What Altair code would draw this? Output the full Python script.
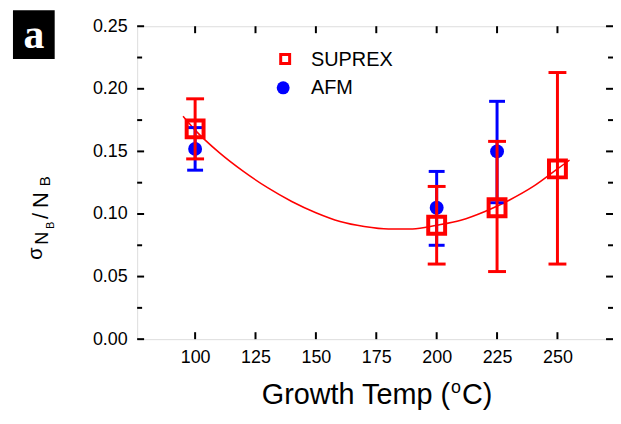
import altair as alt
import pandas as pd

# ---- data ----
temps_suprex = [100, 200, 225, 250]
suprex = [0.168, 0.091, 0.105, 0.136]
suprex_lo = [0.144, 0.060, 0.054, 0.060]
suprex_hi = [0.192, 0.122, 0.158, 0.213]

temps_afm = [100, 200, 225]
afm = [0.152, 0.105, 0.150]
afm_lo = [0.135, 0.075, 0.109]
afm_hi = [0.169, 0.134, 0.190]

fit_x = [95, 100, 110, 120, 130, 140, 150, 160, 170, 180, 190, 200, 210, 220, 230, 240, 250, 255]
fit_y = [0.178, 0.167, 0.149, 0.134, 0.121, 0.110, 0.101, 0.094, 0.090, 0.088, 0.088, 0.091,
         0.095, 0.102, 0.111, 0.122, 0.136, 0.143]

x_ticks = [100, 125, 150, 175, 200, 225, 250]
y_ticks = [0.00, 0.05, 0.10, 0.15, 0.20, 0.25]
y_minor = [0.025, 0.075, 0.125, 0.175, 0.225]

W, H = 479, 315
FONT = "Liberation Sans"
RED = "#ff0000"
BLUE = "#0000ff"

x_scale = alt.Scale(domain=[76, 273], nice=False, zero=False)
y_scale = alt.Scale(domain=[0, 0.25], nice=False, zero=False)
x_axis = alt.Axis(values=x_ticks, ticks=False, domain=False, grid=False, title=None,
                  labelFont=FONT, labelFontSize=18, labelColor="black", labelPadding=9)
y_axis = alt.Axis(values=y_ticks, format=".2f", ticks=False, domain=False, grid=False, title=None,
                  labelFont=FONT, labelFontSize=18, labelColor="black", labelPadding=10)


def X(f):
    return alt.X(f, type="quantitative", scale=x_scale, axis=x_axis)


def Y(f):
    return alt.Y(f, type="quantitative", scale=y_scale, axis=y_axis)


sup_df = pd.DataFrame({"t": temps_suprex, "v": suprex, "lo": suprex_lo, "hi": suprex_hi})
afm_df = pd.DataFrame({"t": temps_afm, "v": afm, "lo": afm_lo, "hi": afm_hi})
fit_df = pd.DataFrame({"t": fit_x, "v": fit_y})
xt_df = pd.DataFrame({"t": x_ticks})
yt_df = pd.DataFrame({"v": y_ticks})
ym_df = pd.DataFrame({"v": y_minor})
one = pd.DataFrame({"d": [0]})

layers = []

# inward ticks
layers.append(alt.Chart(xt_df).mark_rule(color="black", strokeWidth=2).encode(
    x=X("t"), y=alt.value(H), y2=alt.value(H - 7)))
layers.append(alt.Chart(xt_df).mark_rule(color="black", strokeWidth=2).encode(
    x=X("t"), y=alt.value(0), y2=alt.value(7)))
layers.append(alt.Chart(yt_df).mark_rule(color="black", strokeWidth=2).encode(
    y=Y("v"), x=alt.value(0), x2=alt.value(7)))
layers.append(alt.Chart(yt_df).mark_rule(color="black", strokeWidth=2).encode(
    y=Y("v"), x=alt.value(W), x2=alt.value(W - 7)))
layers.append(alt.Chart(ym_df).mark_rule(color="black", strokeWidth=2).encode(
    y=Y("v"), x=alt.value(0), x2=alt.value(5)))
layers.append(alt.Chart(ym_df).mark_rule(color="black", strokeWidth=2).encode(
    y=Y("v"), x=alt.value(W), x2=alt.value(W - 5)))

# fit line
layers.append(alt.Chart(fit_df).mark_line(color=RED, strokeWidth=1.5, interpolate="monotone").encode(
    x=X("t"), y=Y("v")))

# AFM
layers.append(alt.Chart(afm_df).mark_rule(color=BLUE, strokeWidth=3).encode(
    x=X("t"), y=Y("lo"), y2="hi"))
for col in ["lo", "hi"]:
    layers.append(alt.Chart(afm_df).mark_tick(color=BLUE, orient="horizontal", size=16,
                                              thickness=3, opacity=1).encode(x=X("t"), y=Y(col)))
layers.append(alt.Chart(afm_df).mark_point(shape="circle", filled=True, color=BLUE, size=196,
                                           opacity=1).encode(x=X("t"), y=Y("v")))

# SUPREX
layers.append(alt.Chart(sup_df).mark_rule(color=RED, strokeWidth=3).encode(
    x=X("t"), y=Y("lo"), y2="hi"))
for col in ["lo", "hi"]:
    layers.append(alt.Chart(sup_df).mark_tick(color=RED, orient="horizontal", size=18,
                                              thickness=3, opacity=1).encode(x=X("t"), y=Y(col)))
layers.append(alt.Chart(sup_df).mark_point(shape="square", filled=False, color=RED, size=289,
                                           strokeWidth=4, opacity=1).encode(x=X("t"), y=Y("v")))

# legend
layers.append(alt.Chart(one).mark_point(shape="square", filled=False, color=RED, size=81,
                                        strokeWidth=3, opacity=1).encode(
    x=alt.value(149), y=alt.value(33)))
layers.append(alt.Chart(one).mark_point(shape="circle", filled=True, color=BLUE, size=169,
                                        opacity=1).encode(x=alt.value(147), y=alt.value(62)))
layers.append(alt.Chart(one).mark_text(text="SUPREX", font=FONT, fontSize=20, align="left",
                                       baseline="middle", color="black").encode(
    x=alt.value(175), y=alt.value(34)))
layers.append(alt.Chart(one).mark_text(text="AFM", font=FONT, fontSize=20, align="left",
                                       baseline="middle", color="black").encode(
    x=alt.value(175), y=alt.value(62)))

# panel label
layers.append(alt.Chart(one).mark_rect(color="black").encode(
    x=alt.value(-125), x2=alt.value(-83), y=alt.value(-16), y2=alt.value(33)))
layers.append(alt.Chart(one).mark_text(text="a", font="Liberation Serif", fontWeight="bold",
                                       fontSize=42, align="center", baseline="alphabetic",
                                       color="white").encode(x=alt.value(-104), y=alt.value(22)))

# y title pieces (rotated, reading upward)
ytitle = [("σ", -96, 235, 20), ("N", -90, 220, 18), ("B", -84, 204, 11),
          ("/", -90, 194, 22), ("N", -90, 183, 22), ("B", -88, 161, 15)]
for txt, px, py, fs in ytitle:
    layers.append(alt.Chart(one).mark_text(text=txt, font=FONT, fontSize=fs, angle=270,
                                           align="left", baseline="alphabetic",
                                           color="black").encode(x=alt.value(px), y=alt.value(py)))

# x title pieces
layers.append(alt.Chart(one).mark_text(text="Growth Temp (", font=FONT, fontSize=29, align="right",
                                       baseline="alphabetic", color="black").encode(
    x=alt.value(315), y=alt.value(380)))
layers.append(alt.Chart(one).mark_text(text="o", font=FONT, fontSize=18, align="left",
                                       baseline="alphabetic", color="black").encode(
    x=alt.value(316), y=alt.value(369)))
layers.append(alt.Chart(one).mark_text(text="C)", font=FONT, fontSize=29, align="left",
                                       baseline="alphabetic", color="black").encode(
    x=alt.value(327), y=alt.value(380)))

chart = alt.layer(*layers).properties(
    width=W, height=H,
    autosize=alt.AutoSizeParams(type="none"),
    padding={"left": 130, "top": 17, "right": 0, "bottom": 75},
).configure_view(stroke="black", strokeWidth=2).configure(background="white")

chart.save("out.html", embed_options={"renderer": "svg", "actions": False})
